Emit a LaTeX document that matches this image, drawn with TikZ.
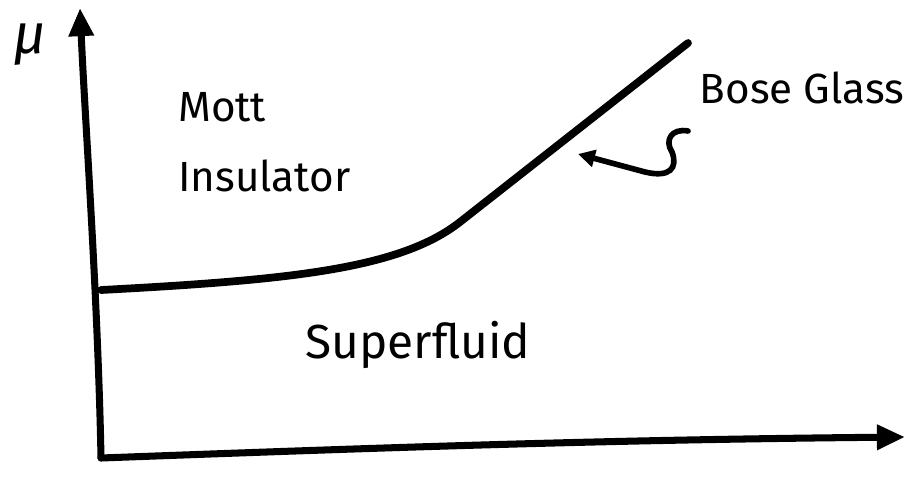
\documentclass[tikz,border=0pt]{standalone}
\usepackage{fontspec}
\setmainfont{Fira Sans}
\usetikzlibrary{arrows.meta}
\begin{document}
\begin{tikzpicture}[x=0.025cm,y=-0.025cm,
  ink/.style={line width=5pt,line cap=round,line join=round},
  axisarrow/.style={ink,-{Triangle[length=20pt,width=17pt]}},
  lbl/.style={font=\fontsize{30}{50}\selectfont,inner sep=0pt}]
\useasboundingbox (0,0) rectangle (918,485);
% axes
\coordinate (origin) at (101,458);
\coordinate (ytip) at (80,8);
\coordinate (xtip) at (905,437);
\draw[axisarrow] (origin) .. controls (98,300) and (85,120) .. (ytip);
\draw[axisarrow] (origin) .. controls (400,447) and (600,440) .. (xtip);
% phase boundary
\coordinate (b0) at (101,290);
\coordinate (b1) at (460,222);
\coordinate (b2) at (688,43);
\draw[ink,line width=5.5pt] (b0) .. controls (290,280) and (400,269) .. (b1) -- (b2);
% squiggle arrow
\coordinate (sq0) at (688,131);
\coordinate (sqtip) at (578,154);
\draw[ink,line width=4pt,-{Triangle[length=12pt,width=12pt]}] (sq0) .. controls (672,128) and (664,140) .. (672,152)
  .. controls (678,168) and (670,178) .. (645,172) -- (sqtip);
% labels
\node[lbl,font=\fontsize{40}{44}\selectfont\itshape] (mu) at (30,45) {μ};
\node[lbl,align=left,anchor=north west] (mott) at (178,92) {Mott\\Insulator};
\node[lbl] (bg) at (802,88) {Bose Glass};
\node[lbl,font=\fontsize{34}{40}\selectfont] (sf) at (418,345) {Superfluid};
\end{tikzpicture}
\end{document}
